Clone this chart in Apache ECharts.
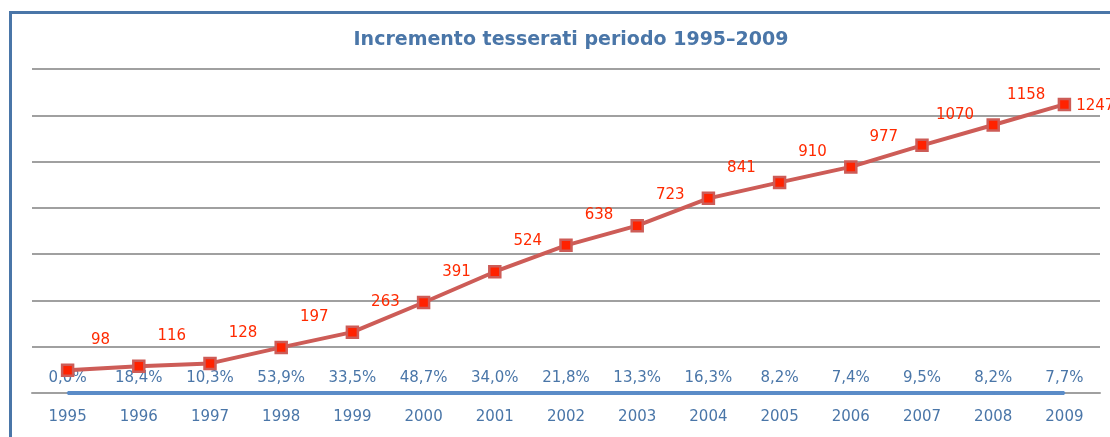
<!DOCTYPE html>
<html>
<head>
<meta charset="utf-8">
<script src="https://cdn.jsdelivr.net/npm/echarts@6/dist/echarts.min.js"></script>
<style>
  html,body{margin:0;padding:0;background:#fff;}
  #chart{width:1110px;height:437px;}
</style>
</head>
<body>
<div id="chart"></div>
<script>
// data
var anni = ["1995","1996","1997","1998","1999","2000","2001","2002","2003","2004","2005","2006","2007","2008","2009"];
var tesserati = [98,116,128,197,263,391,524,638,723,841,910,977,1070,1158,1247];
var incremento = [0.0,18.4,10.3,53.9,33.5,48.7,34.0,21.8,13.3,16.3,8.2,7.4,9.5,8.2,7.7]; // percent

var blu = "#4a76a8";
var fontName = "DejaVu Sans";

var myChart = echarts.init(document.getElementById("chart"));

// percent series is plotted as a fraction, so it lies on the axis like in excel
var incrementoFraz = [];
for(var i=0;i<incremento.length;i++){
    incrementoFraz.push(incremento[i]/100);
}

var tessData = [];
for(var i=0;i<tesserati.length;i++){
    if(i==tesserati.length-1){
        tessData.push({value:tesserati[i],label:{position:"right",offset:[0,2]}});
    }
    else{
        tessData.push(tesserati[i]);
    }
}

var option = {
    animation:false,
    title:{
        text:"Incremento tesserati periodo 1995–2009",
        left:566,
        top:26,
        textAlign:"center",
        textStyle:{color:blu,fontFamily:fontName,fontWeight:"bold",fontSize:19}
    },
    graphic:[{
        type:"rect",
        shape:{x:10.5,y:12.5,width:1300,height:600},
        style:{fill:"none",stroke:blu,lineWidth:3},
        silent:true
    }],
    grid:{left:32,right:10,top:69,bottom:44},
    xAxis:{
        type:"category",
        data:anni,
        axisLine:{lineStyle:{color:"#a0a0a0",width:2}},
        axisTick:{length:5,lineStyle:{color:"#a0a0a0",width:2}},
        axisLabel:{color:blu,fontFamily:fontName,fontSize:15,margin:17}
    },
    yAxis:{
        type:"value",
        min:0,
        max:1400,
        interval:200,
        axisLabel:{show:false},
        axisLine:{show:false},
        axisTick:{show:false},
        splitLine:{lineStyle:{color:"#a0a0a0",width:2}}
    },
    series:[
        {
            name:"incremento",
            type:"line",
            data:incrementoFraz,
            symbol:"circle",
            symbolSize:2,
            showSymbol:true,
            itemStyle:{color:"#5b8cc8"},
            lineStyle:{color:"#5b8cc8",width:4},
            label:{
                show:true,
                position:"top",
                distance:6,
                color:blu,
                fontFamily:fontName,
                fontSize:15,
                formatter:function (p) {
                    return (p.value*100).toFixed(1).replace(".",",")+"%";
                }
            },
            labelLayout:{hideOverlap:false},
            z:3
        },
        {
            name:"tesserati",
            type:"line",
            data:tessData,
            symbol:"rect",
            symbolSize:11,
            itemStyle:{color:"#ff2200",borderColor:"#cd5c57",borderWidth:2.5},
            lineStyle:{color:"#cd5c57",width:4},
            label:{
                show:true,
                position:"top",
                offset:[33,-11],
                color:"#ff2a00",
                fontFamily:fontName,
                fontSize:15
            },
            z:4
        }
    ]
};
myChart.setOption(option);
</script>
</body>
</html>
